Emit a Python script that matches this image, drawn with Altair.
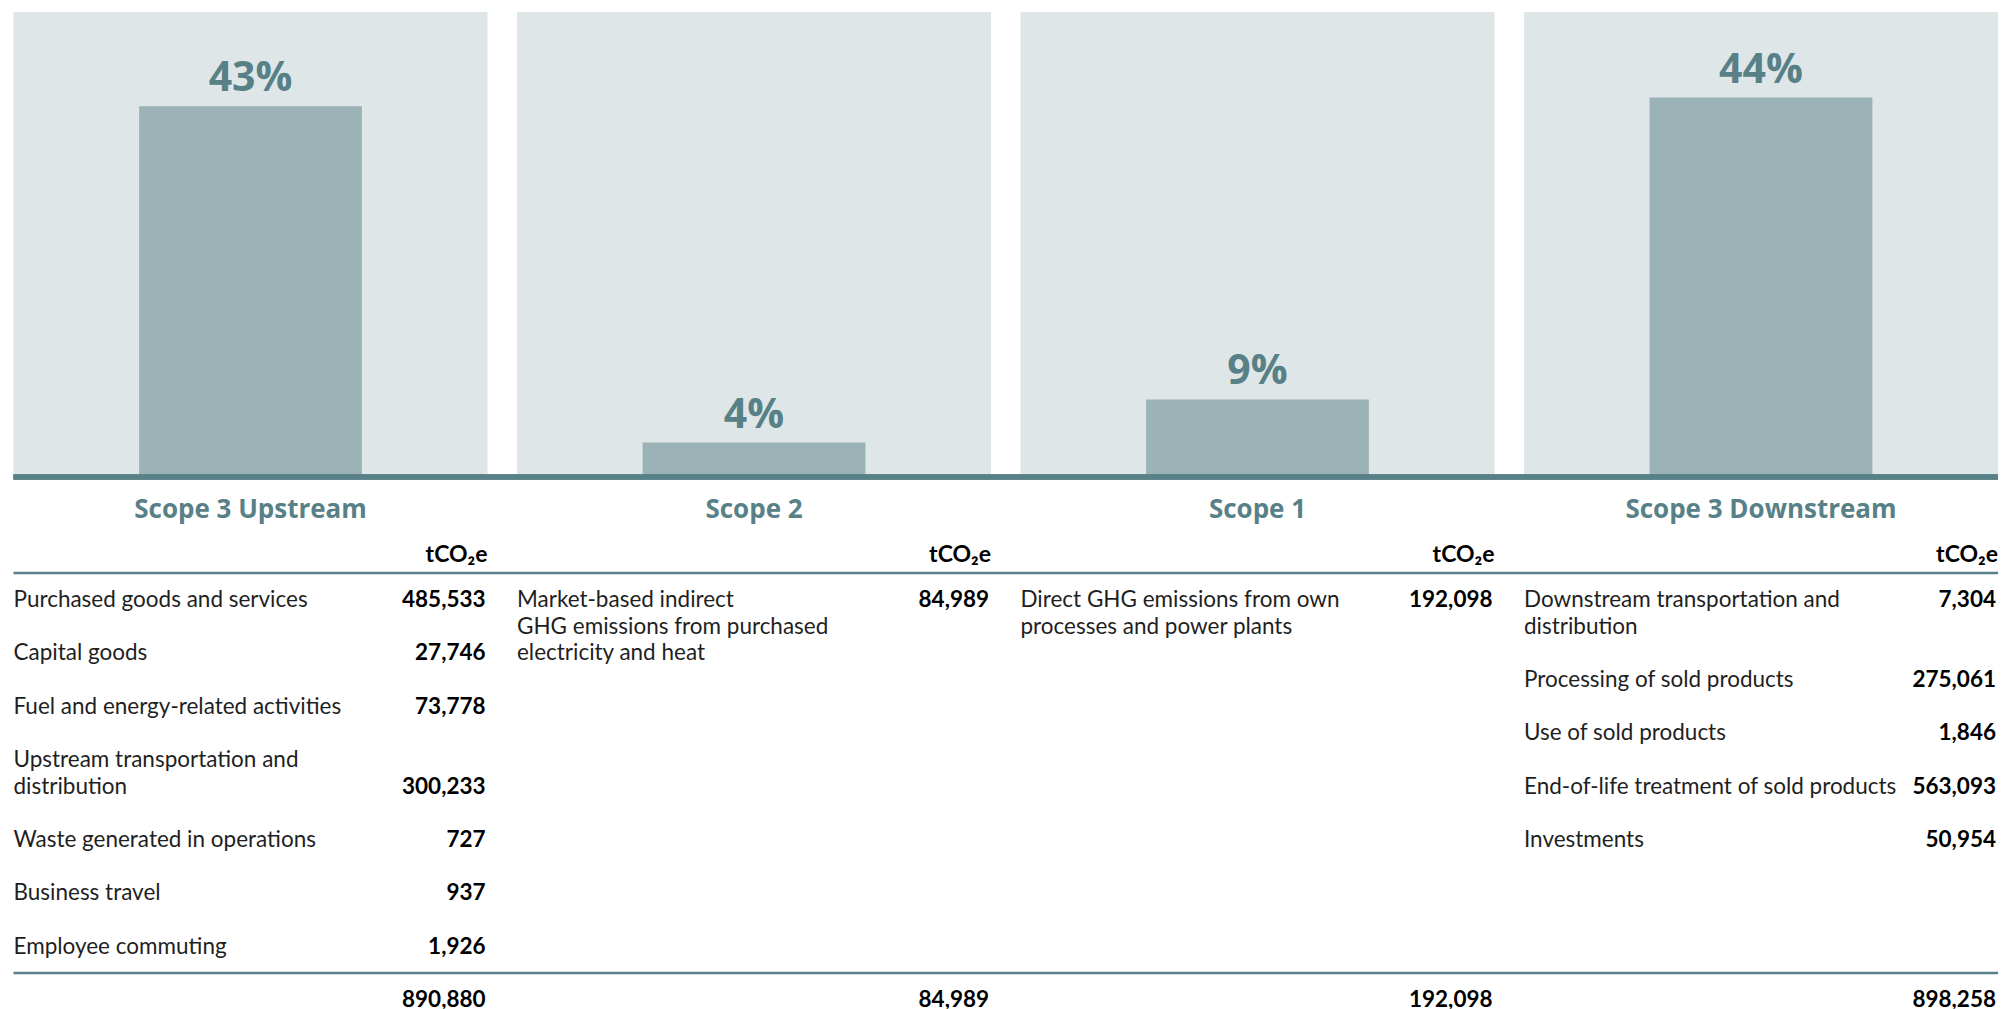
import altair as alt
import pandas as pd

# ---------------- data ----------------
SCOPES = ["Scope 3 Upstream", "Scope 2", "Scope 1", "Scope 3 Downstream"]
SHARES = [43, 4, 9, 44]  # % of total emissions

UP_LABELS = [["Purchased goods and services"], ["Capital goods"],
             ["Fuel and energy-related activities"],
             ["Upstream transportation and", "distribution"],
             ["Waste generated in operations"], ["Business travel"],
             ["Employee commuting"]]
UP_VALUES = [485533, 27746, 73778, 300233, 727, 937, 1926]

S2_LABELS = [["Market-based indirect", "GHG emissions from purchased",
              "electricity and heat"]]
S2_VALUES = [84989]

S1_LABELS = [["Direct GHG emissions from own", "processes and power plants"]]
S1_VALUES = [192098]

DN_LABELS = [["Downstream transportation and", "distribution"],
             ["Processing of sold products"], ["Use of sold products"],
             ["End-of-life treatment of sold products"], ["Investments"]]
DN_VALUES = [7304, 275061, 1846, 563093, 50954]

UNIT = "tCO\u2082e"
VALUE_ON_LAST_LINE = {"Upstream transportation and"}

# ---------------- style ----------------
TEAL = "#588087"
PANEL = "#dfe6e8"
BAR = "#9bb2b6"
INK = "#1f1f1f"
FONT = "Lato"
HEAD_FONT = "Open Sans"

W = 1985
H_TOP = 465
H_BOT = 532
LINE_PX = 26.67
L_TOP = -130 / LINE_PX
L_BOT = L_TOP + H_BOT / LINE_PX
TITLE_LINE = -3.32
HEADER_LINE = -1.69
RULE_OFFSET = -1.27
Y_MAX = 53.9

xscale = alt.Scale(type="band", domain=SCOPES, paddingInner=0.0585, paddingOuter=0)

# ---------------- top: bars ----------------
top_df = pd.DataFrame({"scope": SCOPES, "pct": SHARES})
top_df["label"] = [f"{v}%" for v in SHARES]

xe = alt.X("scope:N", sort=SCOPES, scale=xscale, axis=None)
ye = alt.Y("pct:Q", scale=alt.Scale(domain=[0, Y_MAX], nice=False, zero=True), axis=None)

base_top = alt.Chart(top_df)
panels = base_top.mark_rect(color=PANEL).encode(x=xe)
bars = base_top.mark_bar(color=BAR, width=alt.RelativeBandSize(0.47)).encode(x=xe, y=ye)
pct_text = base_top.mark_text(
    dy=-15, baseline="alphabetic", font=HEAD_FONT, fontSize=41, fontWeight="bold", color=TEAL
).encode(x=xe, y=ye, text="label:N")
baseline = base_top.mark_rule(color=TEAL, strokeWidth=5).encode(y=alt.datum(0))

top = alt.layer(panels, bars, pct_text, baseline).properties(width=W, height=H_TOP)

# ---------------- bottom: table ----------------
rows = []
end_lines = []
for scope, labels, values in zip(SCOPES, [UP_LABELS, S2_LABELS, S1_LABELS, DN_LABELS],
                                 [UP_VALUES, S2_VALUES, S1_VALUES, DN_VALUES]):
    line = 0
    for lab_lines, val in zip(labels, values):
        for i, t in enumerate(lab_lines):
            rows.append(dict(scope=scope, line=line + i, text=t, kind="label"))
        vline = line + len(lab_lines) - 1 if lab_lines[0] in VALUE_ON_LAST_LINE else line
        rows.append(dict(scope=scope, line=vline, text=f"{val:,}", kind="value"))
        line += len(lab_lines) + 1
    end_lines.append(line)
TOTAL_LINE = max(end_lines)
for scope, values in zip(SCOPES, [UP_VALUES, S2_VALUES, S1_VALUES, DN_VALUES]):
    rows.append(dict(scope=scope, line=TOTAL_LINE, text=f"{sum(values):,}", kind="total"))
for scope in SCOPES:
    rows.append(dict(scope=scope, line=TITLE_LINE, text=scope, kind="title"))
    rows.append(dict(scope=scope, line=HEADER_LINE, text=UNIT, kind="header"))

tab = pd.DataFrame(rows)
yscale = alt.Scale(domain=[L_TOP, L_BOT], reverse=True, nice=False, zero=False)
yb = alt.Y("line:Q", scale=yscale, axis=None)


def xb(pos):
    return alt.X("scope:N", sort=SCOPES, scale=xscale, axis=None, bandPosition=pos)


base = alt.Chart(tab)
titles = base.transform_filter("datum.kind == 'title'").mark_text(
    align="center", baseline="alphabetic", font=HEAD_FONT, fontSize=26, fontWeight="bold", color=TEAL
).encode(x=xb(0.5), y=yb, text="text:N")
headers = base.transform_filter("datum.kind == 'header'").mark_text(
    align="right", baseline="alphabetic", font=FONT, fontSize=23, fontWeight="bold", color="#000000"
).encode(x=xb(1), y=yb, text="text:N")
labels_l = base.transform_filter("datum.kind == 'label'").mark_text(
    align="left", baseline="alphabetic", font=FONT, fontSize=22.5, color=INK
).encode(x=xb(0), y=yb, text="text:N")
values_l = base.transform_filter("datum.kind == 'value'").mark_text(
    align="right", baseline="alphabetic", dx=-2, font=FONT, fontSize=22.5, fontWeight="bold", color="#000000"
).encode(x=xb(1), y=yb, text="text:N")
totals_l = base.transform_filter("datum.kind == 'total'").mark_text(
    align="right", baseline="alphabetic", dx=-2, font=FONT, fontSize=22.5, fontWeight="bold",
    color="#000000", clip=True
).encode(x=xb(1), y=yb, text="text:N")
rule_df = pd.DataFrame({"line": [0 + RULE_OFFSET, TOTAL_LINE + RULE_OFFSET]})
rules = alt.Chart(rule_df).mark_rule(color=TEAL, strokeWidth=2.5).encode(y=yb)

bottom = alt.layer(rules, titles, headers, labels_l, values_l, totals_l).properties(
    width=W, height=H_BOT
)

chart = alt.vconcat(top, bottom, spacing=0, bounds="flush").properties(
    padding={"left": 2.5, "top": 4, "right": 0, "bottom": 0}
).configure_view(stroke=None).configure_concat(spacing=0)

chart.save("out.html", embed_options={"renderer": "svg", "actions": False})
